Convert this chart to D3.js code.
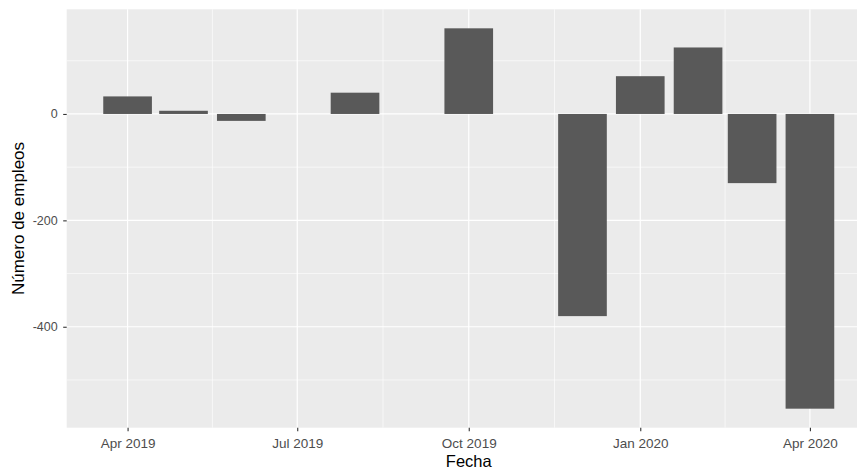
<!DOCTYPE html>
<html>
<head>
<meta charset="utf-8">
<script src="https://cdn.jsdelivr.net/npm/d3@7"></script>
<style>
  html, body { margin: 0; padding: 0; background: #ffffff; }
  svg { display: block; }
  text { font-family: "Liberation Sans", Arial, sans-serif; }
</style>
</head>
<body>
<svg id="chart" width="857" height="471"></svg>
<script>
// Data (monthly change in jobs)
const months = ["2019-04-01","2019-05-01","2019-06-01","2019-08-01","2019-10-01",
                "2019-12-01","2020-01-01","2020-02-01","2020-03-01","2020-04-01"];
const values = [33, 6, -13, 40, 161, -380, 71, 125, -130, -554];
const xTickDates = ["2019-04-01","2019-07-01","2019-10-01","2020-01-01","2020-04-01"];
const xTickLabels = ["Apr 2019","Jul 2019","Oct 2019","Jan 2020","Apr 2020"];
const yTicks = [-400, -200, 0];
const yTickLabels = ["-400", "-200", "0"];
const yMinor = [-500, -300, -100, 100];
const xLabel = "Fecha";
const yLabel = "Número de empleos";

const parse = d3.utcParse("%Y-%m-%d");
const data = months.map((m, i) => ({ date: parse(m), value: values[i] }));

const svg = d3.select("#chart");
const panel = { left: 66.7, top: 9.3, right: 870.8, bottom: 427.7 };

// bar width like ggplot: 0.9 * smallest gap between dates
const times = data.map(d => +d.date);
let minGap = Infinity;
for (let i = 1; i < times.length; i++) minGap = Math.min(minGap, times[i] - times[i - 1]);
const barW = 0.9 * minGap;

const xMin = d3.min(times) - barW / 2, xMax = d3.max(times) + barW / 2;
const xPad = 0.05 * (xMax - xMin);
const x = d3.scaleUtc()
  .domain([new Date(xMin - xPad), new Date(xMax + xPad)])
  .range([panel.left, panel.right]);

const yLo = Math.min(0, d3.min(values)), yHi = Math.max(0, d3.max(values));
const yPad = 0.05 * (yHi - yLo);
const y = d3.scaleLinear()
  .domain([yLo - yPad, yHi + yPad])
  .range([panel.bottom, panel.top]);

// panel background
svg.append("rect")
  .attr("x", panel.left).attr("y", panel.top)
  .attr("width", panel.right - panel.left).attr("height", panel.bottom - panel.top)
  .attr("fill", "#EBEBEB");

const xTicks = xTickDates.map(parse);
const xMinorTicks = [];
for (let i = 1; i < xTicks.length; i++) {
  xMinorTicks.push(new Date((+xTicks[i - 1] + +xTicks[i]) / 2));
}

const grid = svg.append("g");
// minor grid
grid.selectAll("line.ymin").data(yMinor).enter().append("line")
  .attr("x1", panel.left).attr("x2", panel.right)
  .attr("y1", d => y(d)).attr("y2", d => y(d))
  .attr("stroke", "#fff").attr("stroke-width", 0.6);
grid.selectAll("line.xmin").data(xMinorTicks).enter().append("line")
  .attr("y1", panel.top).attr("y2", panel.bottom)
  .attr("x1", d => x(d)).attr("x2", d => x(d))
  .attr("stroke", "#fff").attr("stroke-width", 0.6);
// major grid
grid.selectAll("line.ymaj").data(yTicks).enter().append("line")
  .attr("x1", panel.left).attr("x2", panel.right)
  .attr("y1", d => y(d)).attr("y2", d => y(d))
  .attr("stroke", "#fff").attr("stroke-width", 1.2);
grid.selectAll("line.xmaj").data(xTicks).enter().append("line")
  .attr("y1", panel.top).attr("y2", panel.bottom)
  .attr("x1", d => x(d)).attr("x2", d => x(d))
  .attr("stroke", "#fff").attr("stroke-width", 1.2);

// bars
svg.append("g").selectAll("rect").data(data).enter().append("rect")
  .attr("x", d => x(new Date(+d.date - barW / 2)))
  .attr("width", d => x(new Date(+d.date + barW / 2)) - x(new Date(+d.date - barW / 2)))
  .attr("y", d => y(Math.max(0, d.value)))
  .attr("height", d => Math.abs(y(d.value) - y(0)))
  .attr("fill", "#595959");

// x axis
const xAxis = d3.axisBottom(x)
  .tickValues(xTicks)
  .tickFormat((d, i) => xTickLabels[i])
  .tickSize(3.5).tickPadding(7);
const gx = svg.append("g").attr("transform", `translate(0,${panel.bottom})`).call(xAxis);
gx.select(".domain").remove();
gx.selectAll(".tick line").attr("stroke", "#333333").attr("stroke-width", 1.1);
gx.selectAll(".tick text").attr("fill", "#4D4D4D")
  .style("font-size", "13.5px").style("font-family", "'Liberation Sans', Arial, sans-serif");

// y axis
const yAxis = d3.axisLeft(y).tickValues(yTicks)
  .tickFormat((d, i) => yTickLabels[i])
  .tickSize(3.5).tickPadding(5.5);
const gy = svg.append("g").attr("transform", `translate(${panel.left},0)`).call(yAxis);
gy.select(".domain").remove();
gy.selectAll(".tick line").attr("stroke", "#333333").attr("stroke-width", 1.1);
gy.selectAll(".tick text").attr("fill", "#4D4D4D")
  .style("font-size", "12.5px").style("font-family", "'Liberation Sans', Arial, sans-serif");

// axis titles
svg.append("text")
  .attr("x", (panel.left + panel.right) / 2).attr("y", 466.5)
  .attr("text-anchor", "middle").attr("fill", "#000")
  .style("font-size", "16.5px").text(xLabel);
svg.append("text")
  .attr("transform", `translate(24,${(panel.top + panel.bottom) / 2}) rotate(-90)`)
  .attr("text-anchor", "middle").attr("fill", "#000")
  .style("font-size", "17px").text(yLabel);
</script>
</body>
</html>
